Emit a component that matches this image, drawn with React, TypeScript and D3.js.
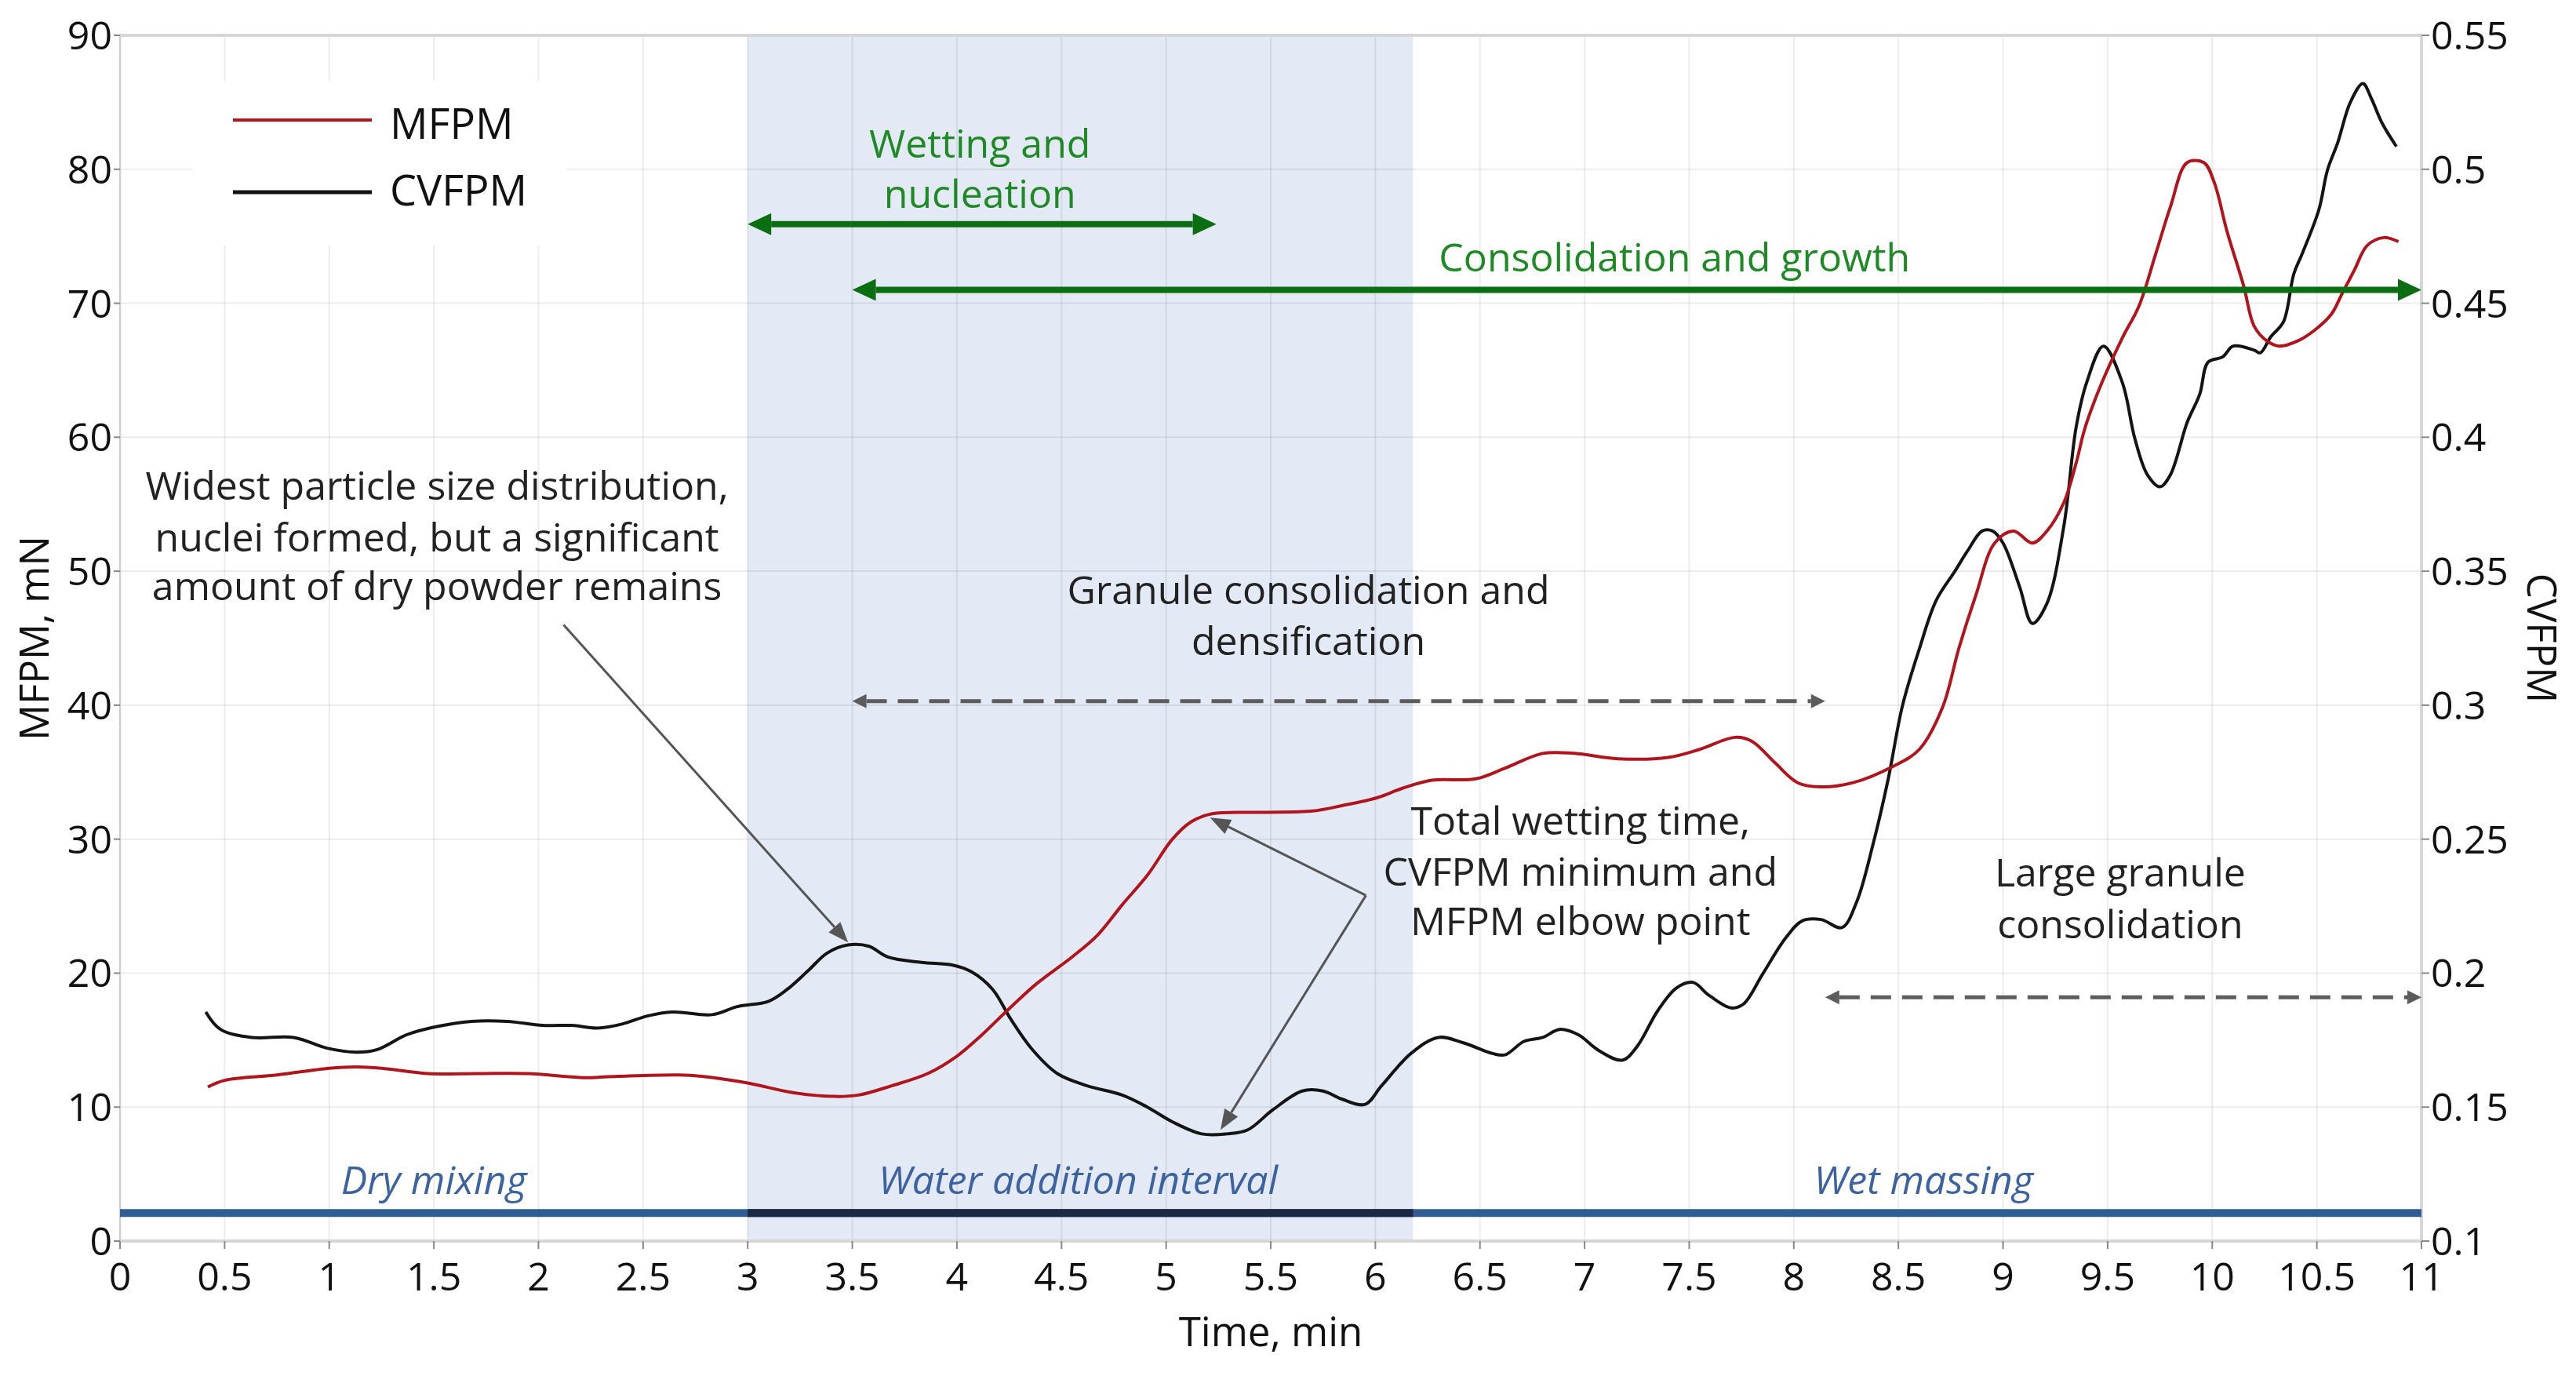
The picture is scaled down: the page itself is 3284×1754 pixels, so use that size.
import * as d3 from "d3";

// chart size and plot frame (px)
const W = 3284;
const H = 1754;
const M = { left: 153, right: 3087, top: 45, bottom: 1582 };
const FONT = "'Open Sans', 'Noto Sans', sans-serif";

// MFPM (left axis, mN)
const mfTime = [
  0.42, 0.5, 0.75, 1.0, 1.13, 1.25, 1.47, 1.71, 1.95, 2.21, 2.38, 2.67, 2.78, 3.0, 3.21, 3.41,
  3.53, 3.69, 3.86, 4.0, 4.12, 4.24, 4.38, 4.55, 4.67, 4.79, 4.91, 5.03, 5.12, 5.22, 5.46, 5.7,
  5.84, 6.01, 6.13, 6.27, 6.48, 6.62, 6.8, 6.95, 7.16, 7.4, 7.55, 7.72, 7.8, 7.91, 8.02, 8.13,
  8.28, 8.47, 8.6, 8.71, 8.79, 8.87, 8.96, 9.05, 9.14, 9.21, 9.29, 9.35, 9.39, 9.46, 9.57, 9.65,
  9.73, 9.8, 9.88, 9.96, 10.01, 10.07, 10.15, 10.2, 10.26, 10.32, 10.41, 10.49, 10.57, 10.62,
  10.68, 10.74, 10.82, 10.89,
];
const mfpm = [
  11.5, 12.0, 12.4, 12.9, 13.0, 12.9, 12.5, 12.5, 12.5, 12.2, 12.3, 12.4, 12.3, 11.8, 11.1, 10.8,
  10.9, 11.6, 12.5, 13.8, 15.4, 17.2, 19.2, 21.2, 22.8, 25.1, 27.3, 30.0, 31.3, 31.9, 32.0, 32.1,
  32.5, 33.1, 33.8, 34.4, 34.5, 35.3, 36.4, 36.4, 36.0, 36.1, 36.7, 37.6, 37.3, 35.7, 34.2, 33.9,
  34.2, 35.4, 36.7, 39.8, 44.3, 48.2, 52.1, 53.0, 52.1, 53.0, 55.1, 58.1, 60.6, 63.6, 67.4, 69.8,
  73.7, 77.2, 80.5, 80.5, 79.0, 75.4, 71.3, 68.3, 67.2, 66.8, 67.2, 68.0, 69.2, 70.7,
  72.5, 74.3, 74.9, 74.6,
];

// CVFPM (right axis)
const cvTime = [
  0.41, 0.48, 0.63, 0.83, 0.99, 1.13, 1.23, 1.37, 1.51, 1.68, 1.85, 2.02, 2.16, 2.28, 2.4, 2.52,
  2.64, 2.83, 2.95, 3.1, 3.19, 3.29, 3.38, 3.48, 3.58, 3.67, 3.83, 3.98, 4.07, 4.17, 4.26, 4.36,
  4.48, 4.62, 4.79, 4.91, 5.03, 5.17, 5.29, 5.39, 5.51, 5.65, 5.75, 5.84, 5.95, 6.03, 6.17, 6.3,
  6.42, 6.56, 6.62, 6.71, 6.8, 6.88, 6.97, 7.07, 7.18, 7.25, 7.35, 7.44, 7.52, 7.59, 7.7, 7.76,
  7.85, 7.96, 8.04, 8.13, 8.23, 8.3, 8.38, 8.45, 8.52, 8.6, 8.68, 8.77, 8.83, 8.9, 8.95, 9.0,
  9.08, 9.14, 9.21, 9.29, 9.35, 9.4, 9.48, 9.57, 9.63, 9.69, 9.75, 9.8, 9.88, 9.94, 9.98, 10.05,
  10.1, 10.2, 10.23, 10.28, 10.34, 10.39, 10.43, 10.51, 10.55, 10.6, 10.66, 10.72, 10.76, 10.81,
  10.88,
];
const cvfpm = [
  0.1855, 0.179, 0.176, 0.176, 0.172, 0.1705, 0.1715, 0.177, 0.18, 0.182, 0.182, 0.1805, 0.1805,
  0.1795, 0.181, 0.184, 0.1855, 0.1845, 0.1875, 0.1895, 0.194, 0.201, 0.2075, 0.2105, 0.21, 0.206,
  0.204, 0.203, 0.2005, 0.194, 0.1825, 0.1715, 0.1625, 0.158, 0.1545, 0.15, 0.1445, 0.14, 0.14,
  0.1415, 0.149, 0.156, 0.156, 0.153, 0.151, 0.158, 0.17, 0.176, 0.174, 0.17, 0.1695, 0.1745,
  0.176, 0.179, 0.177, 0.171, 0.1675, 0.1725, 0.186, 0.1945, 0.1965, 0.192, 0.187, 0.1885, 0.1995,
  0.213, 0.2195, 0.22, 0.217, 0.2265, 0.2485, 0.272, 0.3, 0.321, 0.339, 0.35, 0.3575, 0.365, 0.365,
  0.3605, 0.344, 0.3305, 0.338, 0.3665, 0.404, 0.4205, 0.434, 0.4205, 0.3995, 0.386, 0.3815, 0.386,
  0.4055, 0.416, 0.428, 0.43, 0.434, 0.4325, 0.4315, 0.4375, 0.443, 0.461, 0.4685, 0.485, 0.4995,
  0.51, 0.525, 0.532, 0.5265, 0.5175, 0.5085,
];

const xTicks = d3.range(0, 22.5).map((i) => i * 0.5);
const leftTicks = d3.range(0, 10).map((i) => i * 10);
const rightTicks = d3.range(0, 10).map((i) => 0.1 + i * 0.05);
const rightTickLabels = ["0.1", "0.15", "0.2", "0.25", "0.3", "0.35", "0.4", "0.45", "0.5", "0.55"];

// phases (min)
const waterStart = 3;
const waterEnd = 6.18;
const phases = [
  { label: "Dry mixing", x: 1.5 },
  { label: "Water addition interval", x: 4.58 },
  { label: "Wet massing", x: 8.62 },
];

// annotation texts: x centre (min), line centres (mN)
const notes = [
  { lines: ["Widest particle size distribution,", "nuclei formed, but a significant", "amount of dry powder remains"], x: 1.515, y: [56.4, 52.5, 48.9], color: "#222" },
  { lines: ["Granule consolidation and", "densification"], x: 5.68, y: [48.6, 44.8], color: "#222" },
  { lines: ["Total wetting time,", "CVFPM minimum and", "MFPM elbow point"], x: 6.98, y: [31.4, 27.6, 23.9], color: "#222" },
  { lines: ["Large granule", "consolidation"], x: 9.56, y: [27.5, 23.65], color: "#222" },
  { lines: ["Wetting and", "nucleation"], x: 4.11, y: [81.9, 78.2], color: "#1f8a25" },
  { lines: ["Consolidation and growth"], x: 7.43, y: [73.4], color: "#1f8a25" },
];

// range arrows (min, mN)
const greenArrows = [
  { x0: 3.0, x1: 5.24, y: 75.9 },
  { x0: 3.5, x1: 11.0, y: 71.0 },
];
const dashArrows = [
  { x0: 3.5, x1: 8.15, y: 40.3 },
  { x0: 8.15, x1: 11.0, y: 18.2 },
];
// pointer arrows: from -> to (min, mN)
const pointers = [
  { from: [2.12, 46.0], to: [3.48, 22.3] },
  { from: [5.955, 25.8], to: [5.21, 31.6] },
  { from: [5.955, 25.8], to: [5.26, 8.3] },
];

function head(tx: number, ty: number, fx: number, fy: number, len: number, hw: number) {
  const a = Math.atan2(ty - fy, tx - fx);
  const bx = tx - len * Math.cos(a);
  const by = ty - len * Math.sin(a);
  const px = -Math.sin(a) * hw;
  const py = Math.cos(a) * hw;
  return {
    pts: `${tx},${ty} ${bx + px},${by + py} ${bx - px},${by - py}`,
    bx,
    by,
  };
}

export default function App() {
  const x = d3.scaleLinear().domain([0, 11]).range([M.left, M.right]);
  const yL = d3.scaleLinear().domain([0, 90]).range([M.bottom, M.top]);
  const yR = d3.scaleLinear().domain([0.1, 0.55]).range([M.bottom, M.top]);

  const mfLine = d3
    .line<number>()
    .x((_, i) => x(mfTime[i]))
    .y((d) => yL(d))
    .curve(d3.curveCatmullRom.alpha(0.5));
  const cvLine = d3
    .line<number>()
    .x((_, i) => x(cvTime[i]))
    .y((d) => yR(d))
    .curve(d3.curveCatmullRom.alpha(0.5));

  const barY = yL(2.1);

  return (
    <svg width={W} height={H} style={{ position: "absolute", left: 0, top: 0, background: "#fff" }} fontFamily={FONT}>
      {/* water addition band */}
      <rect x={x(waterStart)} y={M.top} width={x(waterEnd) - x(waterStart)} height={M.bottom - M.top} fill="#e3eaf5" />

      {/* grid */}
      {xTicks.slice(1, -1).map((t) => (
        <line key={"gx" + t} x1={x(t)} x2={x(t)} y1={M.top} y2={M.bottom} stroke="#000" strokeOpacity={0.075} strokeWidth={2} />
      ))}
      {leftTicks.slice(1).map((t) => (
        <line key={"gy" + t} x1={M.left} x2={M.right} y1={yL(t)} y2={yL(t)} stroke="#000" strokeOpacity={0.075} strokeWidth={2} />
      ))}

      {/* legend box */}
      <rect x={245} y={103} width={477} height={210} fill="#fff" />

      {/* frame */}
      <line x1={M.left} x2={M.right} y1={M.top} y2={M.top} stroke="#d6d6d6" strokeWidth={4} />
      <line x1={M.left} x2={M.right} y1={M.bottom} y2={M.bottom} stroke="#d6d6d6" strokeWidth={4} />
      <line x1={M.left} x2={M.left} y1={M.top} y2={M.bottom} stroke="#cfcfcf" strokeWidth={2.5} />
      <line x1={M.right} x2={M.right} y1={M.top} y2={M.bottom} stroke="#d6d6d6" strokeWidth={4} />

      {/* ticks and labels */}
      {xTicks.map((t) => (
        <g key={"xt" + t}>
          <line x1={x(t)} x2={x(t)} y1={M.bottom} y2={M.bottom + 10} stroke="#888" strokeWidth={2} />
          <text x={x(t)} y={M.bottom + 63} textAnchor="middle" fontSize={50} fill="#111">
            {String(t)}
          </text>
        </g>
      ))}
      {leftTicks.map((t) => (
        <g key={"lt" + t}>
          <line x1={M.left - 8} x2={M.left} y1={yL(t)} y2={yL(t)} stroke="#888" strokeWidth={2} />
          <text x={M.left - 10} y={yL(t)} dy="0.36em" textAnchor="end" fontSize={50} fill="#111">
            {t}
          </text>
        </g>
      ))}
      {rightTicks.map((t, i) => (
        <g key={"rt" + i}>
          <line x1={M.right} x2={M.right + 10} y1={yR(t)} y2={yR(t)} stroke="#888" strokeWidth={2} />
          <text x={M.right + 12} y={yR(t)} dy="0.36em" textAnchor="start" fontSize={50} fill="#111">
            {rightTickLabels[i]}
          </text>
        </g>
      ))}

      {/* axis titles */}
      <text x={(M.left + M.right) / 2} y={1716} textAnchor="middle" fontSize={51} fill="#111">
        Time, min
      </text>
      <text transform={`translate(62,${(M.top + M.bottom) / 2}) rotate(-90)`} textAnchor="middle" fontSize={51} fill="#111">
        MFPM, mN
      </text>
      <text transform={`translate(3222,${(M.top + M.bottom) / 2}) rotate(90)`} textAnchor="middle" fontSize={51} fill="#111">
        CVFPM
      </text>

      {/* phase bar */}
      <line x1={x(0)} x2={x(11)} y1={barY} y2={barY} stroke="#325d94" strokeWidth={10} />
      <line x1={x(waterStart)} x2={x(waterEnd)} y1={barY} y2={barY} stroke="#1b2a40" strokeWidth={10} />
      {phases.map((p) => (
        <text key={p.label} x={x(p.x)} y={yL(4.57)} dy="0.36em" textAnchor="middle" fontSize={50} fontStyle="italic" fill="#3c63a0">
          {p.label}
        </text>
      ))}

      {/* curves */}
      <path d={cvLine(cvfpm) || ""} fill="none" stroke="#141414" strokeWidth={4} strokeLinejoin="round" />
      <path d={mfLine(mfpm) || ""} fill="none" stroke="#b0141c" strokeWidth={4} strokeLinejoin="round" />

      {/* range arrows */}
      {greenArrows.map((a, i) => {
        const y = yL(a.y);
        const h1 = head(x(a.x0), y, x(a.x1), y, 30, 14);
        const h2 = head(x(a.x1), y, x(a.x0), y, 30, 14);
        return (
          <g key={"ga" + i}>
            <line x1={h1.bx} x2={h2.bx} y1={y} y2={y} stroke="#0c6e12" strokeWidth={8} />
            <polygon points={h1.pts} fill="#0c6e12" />
            <polygon points={h2.pts} fill="#0c6e12" />
          </g>
        );
      })}
      {dashArrows.map((a, i) => {
        const y = yL(a.y);
        const h1 = head(x(a.x0), y, x(a.x1), y, 18, 9);
        const h2 = head(x(a.x1), y, x(a.x0), y, 18, 9);
        return (
          <g key={"da" + i}>
            <line x1={h1.bx} x2={h2.bx} y1={y} y2={y} stroke="#5c5c5c" strokeWidth={5} strokeDasharray="26 14" />
            <polygon points={h1.pts} fill="#5c5c5c" />
            <polygon points={h2.pts} fill="#5c5c5c" />
          </g>
        );
      })}
      {pointers.map((p, i) => {
        const fx = x(p.from[0]);
        const fy = yL(p.from[1]);
        const tx = x(p.to[0]);
        const ty = yL(p.to[1]);
        const h = head(tx, ty, fx, fy, 26, 10);
        return (
          <g key={"pa" + i}>
            <line x1={fx} y1={fy} x2={h.bx} y2={h.by} stroke="#555" strokeWidth={3} />
            <polygon points={h.pts} fill="#555" />
          </g>
        );
      })}

      {/* annotation texts */}
      {notes.map((n, i) =>
        n.lines.map((l, j) => (
          <text key={"n" + i + "-" + j} x={x(n.x)} y={yL(n.y[j])} dy="0.36em" textAnchor="middle" fontSize={50} fill={n.color}>
            {l}
          </text>
        ))
      )}

      {/* legend */}
      <line x1={297} x2={474} y1={153} y2={153} stroke="#b0141c" strokeWidth={4} />
      <text x={497} y={177} fontSize={54} fill="#111">
        MFPM
      </text>
      <line x1={297} x2={474} y1={245} y2={245} stroke="#141414" strokeWidth={5} />
      <text x={497} y={262} fontSize={54} fill="#111">
        CVFPM
      </text>
    </svg>
  );
}
